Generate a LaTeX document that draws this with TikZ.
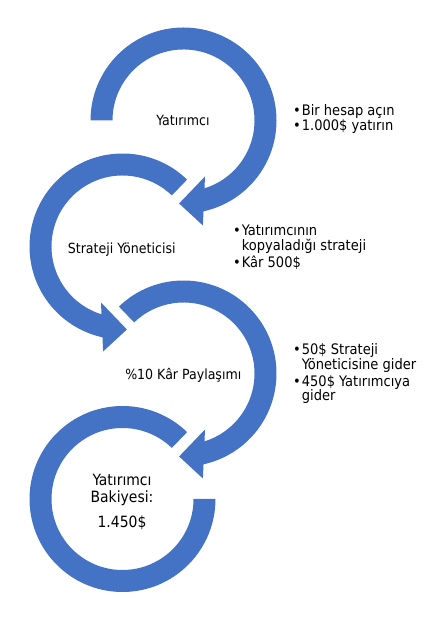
\documentclass[tikz,border=0pt]{standalone}
\usepackage{fontspec}
\setmainfont{DejaVu Sans Condensed}
\definecolor{ringblue}{HTML}{4472C4}
\newcommand{\bul}{\llap{•\kern1pt}}
\begin{document}
\begin{tikzpicture}[x=1pt,y=1pt,
  ringfill/.style={fill=ringblue},
  lbl/.style={inner sep=0pt,anchor=base,font=\fontsize{14}{16}\selectfont},
  bal/.style={inner sep=0pt,anchor=base,font=\fontsize{15.5}{17}\selectfont},
  side/.style={inner sep=0pt,anchor=base west,font=\fontsize{14.5}{16}\selectfont}]
\useasboundingbox (0,0) rectangle (440,623);
% ring centres
\coordinate (c1) at (183.5,502.5);
\coordinate (c2) at (122.5,376.5);
\coordinate (c3) at (183.5,249.5);
\coordinate (c4) at (122.5,124);
% ring 1 (clockwise, arrow)
\fill[ringfill] ([shift={(180:93)}]c1) arc[start angle=180,end angle=-82,radius=93]
  -- ([shift={(-82:71)}]c1) arc[start angle=-82,end angle=180,radius=71] -- cycle;
\fill[ringfill] ([shift={(21.5,-56)}]c1) -- ([shift={(19.4,-105)}]c1) -- ([shift={(-4.4,-83)}]c1) -- cycle;
% ring 2 (counter-clockwise, arrow)
\fill[ringfill] ([shift={(46:93)}]c2) arc[start angle=46,end angle=262,radius=93]
  -- ([shift={(262:71)}]c2) arc[start angle=262,end angle=46,radius=71] -- cycle;
\fill[ringfill] ([shift={(-21.5,-56)}]c2) -- ([shift={(-19.4,-105)}]c2) -- ([shift={(4.4,-83)}]c2) -- cycle;
% ring 3 (clockwise, arrow)
\fill[ringfill] ([shift={(134:93)}]c3) arc[start angle=134,end angle=-82,radius=93]
  -- ([shift={(-82:71)}]c3) arc[start angle=-82,end angle=134,radius=71] -- cycle;
\fill[ringfill] ([shift={(21.5,-56)}]c3) -- ([shift={(19.4,-105)}]c3) -- ([shift={(-4.4,-83)}]c3) -- cycle;
% ring 4 (counter-clockwise, no arrow)
\fill[ringfill] ([shift={(46:93)}]c4) arc[start angle=46,end angle=360,radius=93]
  -- ([shift={(0:71)}]c4) arc[start angle=360,end angle=46,radius=71] -- cycle;
% centre labels
\node[lbl] (t1) at (183,497) {Yatırımcı};
\node[lbl] (t2) at (121.7,369.7) {Strateji Yöneticisi};
\node[lbl] (t3) at (183.3,243) {\%10 Kâr Paylaşımı};
\node[bal] (t4a) at (122,137) {Yatırımcı};
\node[bal] (t4b) at (122,120.3) {Bakiyesi:};
\node[bal] (t4c) at (122,95.7) {1.450\$};
% side notes
\node[side] (s1a) at (301.7,507.3) {\bul Bir hesap açın};
\node[side] (s1b) at (301.7,492) {\bul 1.000\$ yatırın};
\node[side] (s2a) at (241.7,387) {\bul Yatırımcının};
\node[side] (s2b) at (241.7,372) {kopyaladığı strateji};
\node[side] (s2c) at (241.7,355.5) {\bul Kâr 500\$};
\node[side] (s3a) at (301.7,268) {\bul 50\$ Strateji};
\node[side] (s3b) at (301.7,253.5) {Yöneticisine gider};
\node[side] (s3c) at (301.7,236.5) {\bul 450\$ Yatırımcıya};
\node[side] (s3d) at (301.7,222) {gider};
\end{tikzpicture}
\end{document}
